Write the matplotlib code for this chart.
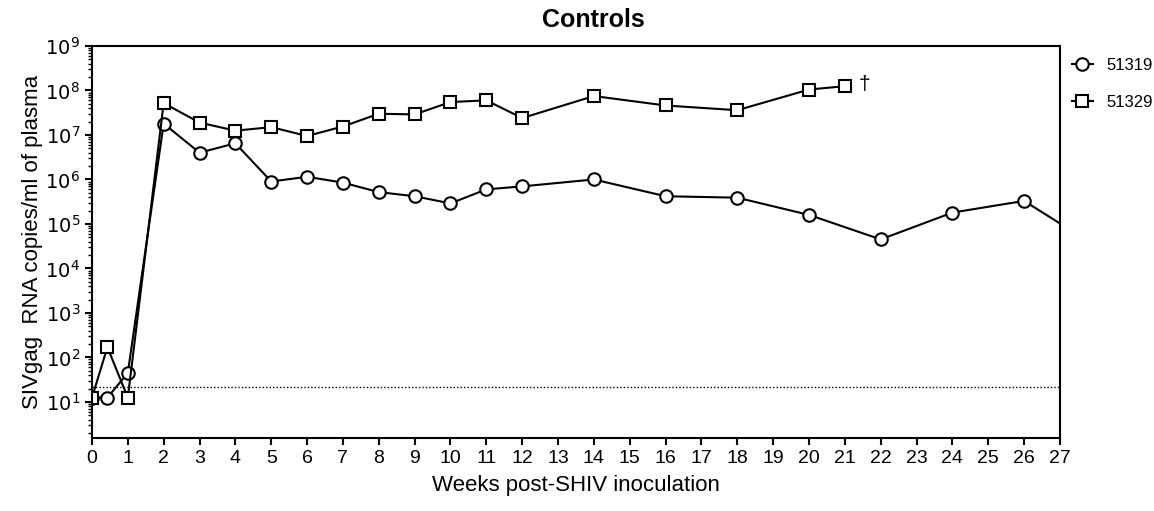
import numpy as np
import matplotlib
matplotlib.use("Agg")
import matplotlib.pyplot as plt
from matplotlib.ticker import LogLocator, FixedLocator

plt.rcParams['font.family'] = ['Liberation Sans', 'DejaVu Sans']

# animal 51319 (circles); last point lies past the axis end and is clipped
weeks_51319 = [0, 0.43, 1, 2, 3, 4, 5, 6, 7, 8, 9, 10, 11, 12, 14, 16, 18, 20, 22, 24, 26, 28]
vl_51319 = [12.5, 12.5, 45, 1.8e7, 4.0e6, 6.5e6, 9.0e5, 1.15e6, 8.5e5, 5.2e5, 4.2e5, 2.9e5,
            6.0e5, 7.0e5, 1.0e6, 4.2e5, 3.9e5, 1.6e5, 4.5e4, 1.8e5, 3.3e5, 3.2e4]

# animal 51329 (squares)
weeks_51329 = [0, 0.43, 1, 2, 3, 4, 5, 6, 7, 8, 9, 10, 11, 12, 14, 16, 18, 20, 21]
vl_51329 = [12.5, 170, 12.5, 5.2e7, 1.9e7, 1.25e7, 1.5e7, 9.5e6, 1.55e7, 3.0e7, 2.9e7, 5.5e7,
            6.0e7, 2.4e7, 7.5e7, 4.6e7, 3.6e7, 1.05e8, 1.25e8]

detection_limit = 22
week_ticks = list(range(0, 28))

fig = plt.figure(figsize=(11.54, 5.11), dpi=100)
ax = fig.add_axes([0.0797, 0.1429, 0.8388, 0.7671])

ax.plot(weeks_51319, vl_51319, color='black', lw=1.5, marker='o', ms=9,
        mfc='white', mec='black', mew=1.5, label='51319')
ax.plot(weeks_51329, vl_51329, color='black', lw=1.5, marker='s', ms=9,
        mfc='white', mec='black', mew=1.5, label='51329')
ax.axhline(detection_limit, color='black', lw=1, ls=(0, (1, 1.5)))
ax.annotate('\u2020', (weeks_51329[-1], vl_51329[-1]), xytext=(10, 1),
            textcoords='offset points', fontsize=15, va='center', ha='left')

ax.set_yscale('log')
ax.set_xlim(0, 27)
ax.set_ylim(1.55, 1e9)
ax.xaxis.set_major_locator(FixedLocator(week_ticks))
ax.yaxis.set_major_locator(FixedLocator([10.0 ** k for k in range(1, 10)]))
ax.yaxis.set_minor_locator(LogLocator(base=10, subs=np.arange(2, 10), numticks=20))
ax.set_yticklabels(['$10^{%d}$' % k for k in range(1, 10)])
ax.tick_params(axis='both', which='major', direction='out', length=5, width=1.5,
               labelsize=14, color='black')
ax.tick_params(axis='y', which='minor', direction='out', length=3, width=1)
ax.tick_params(axis='x', which='minor', bottom=False)
for s in ax.spines.values():
    s.set_linewidth(1.5)

ax.set_xlabel('Weeks post-SHIV inoculation', fontsize=16, labelpad=6)
ax.set_ylabel('SIVgag  RNA copies/ml of plasma', fontsize=16, labelpad=2)
fig.text(0.514, 0.96, 'Controls', fontsize=18, fontweight='bold', ha='center', va='center')

ax.legend(loc='upper left', bbox_to_anchor=(1.0, 1.0), frameon=False, fontsize=12,
          handlelength=1.3, handletextpad=0.8, labelspacing=1.35, borderaxespad=0.3)

fig.savefig('out.png', dpi=100)
